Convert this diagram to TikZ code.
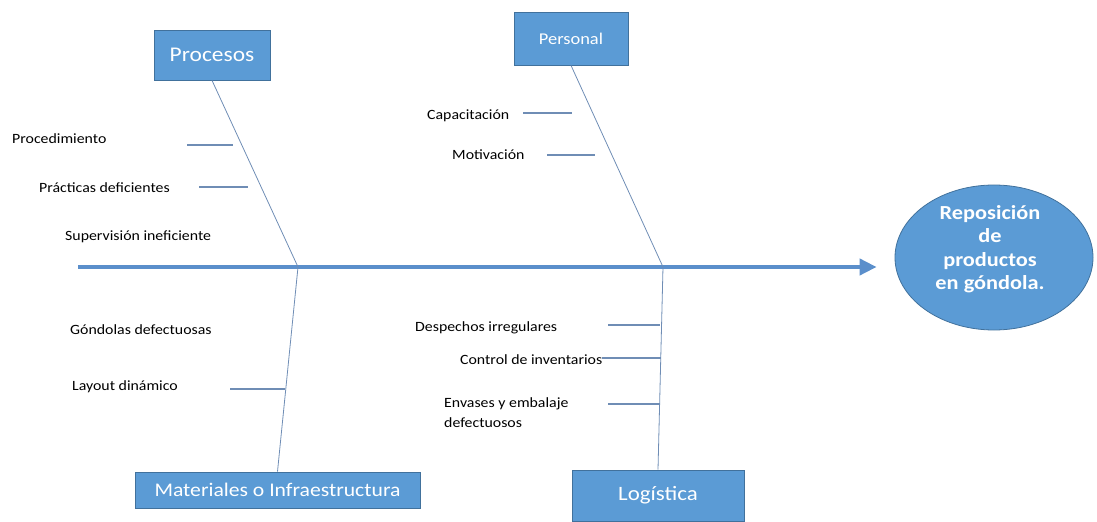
\documentclass[tikz,border=0pt]{standalone}
\usepackage{fontspec}
\setmainfont[FakeStretch=1.12]{Carlito}
\usetikzlibrary{shapes.geometric,arrows.meta,calc}
\definecolor{boxblue}{HTML}{5B9BD5}
\definecolor{boxedge}{HTML}{41719C}
\definecolor{bone}{HTML}{5B8FCB}
\definecolor{twig}{HTML}{6F8DB5}

\begin{document}
\begin{tikzpicture}[x=1bp,y=-1bp,
  cat/.style={draw=boxedge,fill=boxblue,text=white,line width=0.8bp,inner sep=0},
  cause/.style={font=\fontsize{14.2}{20}\selectfont,anchor=west,inner sep=0,text=black,align=left},
  twigline/.style={draw=twig,line width=1.1bp},
  ribline/.style={draw=twig,line width=0.8bp}]
\useasboundingbox (0,0) rectangle (1097,522);

% category boxes
\node[cat,minimum width=116bp,minimum height=50bp,font=\fontsize{21}{24}\selectfont] (proc) at (212,55) {Procesos};
\node[cat,minimum width=114bp,minimum height=53bp,font=\fontsize{16.5}{20}\selectfont] (pers) at (571,38.5) {Personal};
\node[cat,minimum width=285bp,minimum height=36bp,font=\fontsize{19.4}{22}\selectfont] (mat) at (277.5,490) {Materiales o Infraestructura};
\node[cat,minimum width=172bp,minimum height=51bp,font=\fontsize{20.5}{24}\selectfont] (logi) at (658,495.5) {Logística};

% effect
\node[ellipse,draw=boxedge,fill=boxblue,line width=0.8bp,minimum width=198bp,minimum height=145bp,inner sep=0] (goal) at (994,257.5) {};
\node[text=white,align=center,inner sep=0,font=\bfseries\fontsize{20}{23.5}\selectfont] (goaltext) at (990,249) {Reposición\\de\\productos\\en góndola.};

% spine
\coordinate (tail) at (78,267);
\coordinate (j1) at (298,267);
\coordinate (j2) at (663,267);
\draw[bone,line width=4bp,-{Triangle[length=17bp,width=16bp]}] (tail) -- ($(tail -| goal.west)+(-18,0)$);

% ribs
\draw[ribline] (proc.south) -- (j1) -- (mat.north);
\draw[ribline] (pers.south) -- (j2) -- (logi.north);

% causes
\node[cause] (c1) at (12,139) {Procedimiento};
\node[cause] (c2) at (39,188) {Prácticas deficientes};
\node[cause] (c3) at (65,237) {Supervisión ineficiente};
\node[cause] (c4) at (427,116) {Capacitación};
\node[cause] (c5) at (452,155) {Motivación};
\node[cause] (c6) at (70,330) {Góndolas defectuosas};
\node[cause] (c7) at (72,387) {Layout dinámico};
\node[cause] (c8) at (415,328) {Despechos irregulares};
\node[cause] (c9) at (460,360) {Control de inventarios};
\node[cause] (c10) at (444,413) {Envases y embalaje\\defectuosos};

% twigs
\draw[twigline] (187,145) -- (233,145);
\draw[twigline] (199,187) -- (248,187);
\draw[twigline] (523,113) -- (572,113);
\draw[twigline] (547,155) -- (595,155);
\draw[twigline] (230,389) -- (285,389);
\draw[twigline] (608,325) -- (660,325);
\draw[twigline] (602,358) -- (661,358);
\draw[twigline] (608,404) -- (659,404);
\end{tikzpicture}
\end{document}
